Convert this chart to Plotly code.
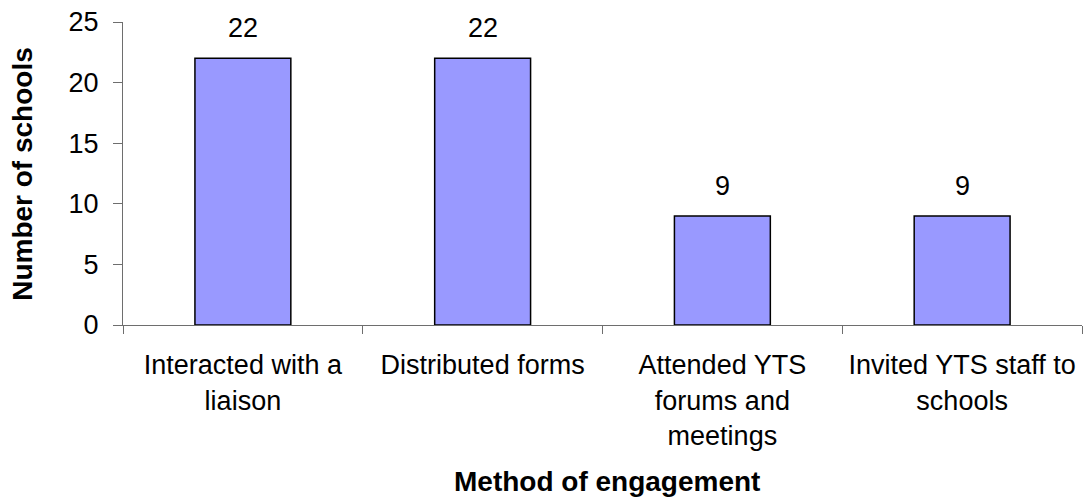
import plotly.graph_objects as go

# Survey counts by engagement method
methods = [
    "Interacted with a<br>liaison",
    "Distributed forms",
    "Attended YTS<br>forums and<br>meetings",
    "Invited YTS staff to<br>schools",
]
schools = [22, 22, 9, 9]
y_ticks = [0, 5, 10, 15, 20, 25]

FONT = "Liberation Sans, Arial, sans-serif"
AXIS = "#6e6e6e"
TXT = 27

fig = go.Figure(
    go.Bar(
        x=methods,
        y=schools,
        width=0.4,
        marker=dict(color="#9999FF", line=dict(color="#000000", width=1.5)),
        hoverinfo="skip",
    )
)

# value labels above each bar
for m, v in zip(methods, schools):
    fig.add_annotation(
        x=m, y=v, text=str(v), showarrow=False,
        yanchor="bottom", yshift=13,
        font=dict(family=FONT, size=TXT, color="#000000"),
    )

# axis titles
fig.add_annotation(
    xref="paper", yref="paper", x=-0.105, y=0.5,
    text="<b>Number of schools</b>", textangle=-90, showarrow=False,
    xanchor="center", yanchor="middle",
    font=dict(family=FONT, size=28, color="#000000"),
)
fig.add_annotation(
    xref="paper", yref="paper", x=0.505, y=-0.515,
    text="<b>Method of engagement</b>", showarrow=False,
    xanchor="center", yanchor="middle",
    font=dict(family=FONT, size=28, color="#000000"),
)

fig.update_layout(
    width=1088, height=499,
    margin=dict(l=123, r=6, t=22, b=174),
    paper_bgcolor="white", plot_bgcolor="white",
    showlegend=False,
    font=dict(family=FONT, size=TXT, color="#000000"),
)

fig.update_xaxes(
    showline=True, linecolor=AXIS, linewidth=1,
    ticks="outside", tickson="boundaries", ticklen=8, tickcolor=AXIS,
    tickfont=dict(family=FONT, size=TXT),
    ticklabelstandoff=16,
    showgrid=False, zeroline=False,
)
fig.update_yaxes(
    range=[0, 25], tickvals=y_ticks,
    showline=True, linecolor=AXIS, linewidth=1,
    ticks="outside", ticklen=9, tickcolor=AXIS,
    tickfont=dict(family=FONT, size=TXT),
    ticklabelstandoff=9,
    showgrid=False, zeroline=False,
)

fig.write_html("out.html")
